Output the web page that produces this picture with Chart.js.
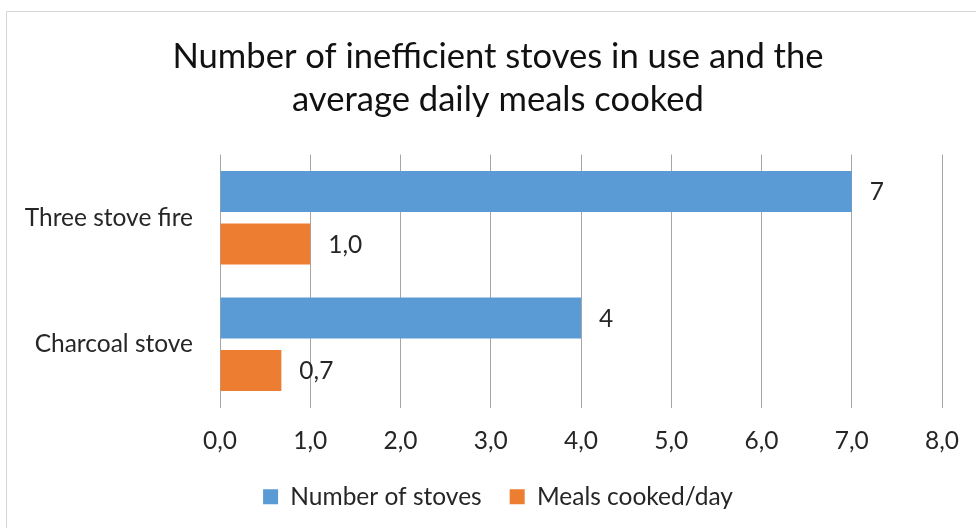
<!DOCTYPE html>
<html>
<head>
<meta charset="utf-8">
<script src="https://cdn.jsdelivr.net/npm/chart.js@4"></script>
<style>
  html, body { margin: 0; padding: 0; background: #fff; overflow: hidden; }
  #frame { position: absolute; left: 6px; top: 11px; width: 2000px; height: 2000px; border: 1px solid #d6d6d6; }
  #chart { position: absolute; left: 0; top: 0; }
</style>
</head>
<body>
<div id="frame"></div>
<canvas id="chart" width="976" height="528"></canvas>
<script>
var categories = ["Three stove fire", "Charcoal stove"];
var stoves = [7, 4];
var meals = [1.0, 0.68];
var seriesNames = ["Number of stoves", "Meals cooked/day"];
var xTicks = [0, 1, 2, 3, 4, 5, 6, 7, 8];

var textFont = "Lato, 'Open Sans', sans-serif";

function comma(v, d) {
	return v.toFixed(d).replace(".", ",");
}

// value labels to the right of each bar
var barLabels = {
	id: "barLabels",
	afterDatasetsDraw: function (chart) {
		var ctx = chart.ctx;
		ctx.save();
		ctx.font = "24.5px " + textFont;
		ctx.fillStyle = "#262626";
		ctx.textAlign = "left";
		ctx.textBaseline = "middle";
		chart.data.datasets.forEach(function (ds, i) {
			var meta = chart.getDatasetMeta(i);
			meta.data.forEach(function (bar, j) {
				var txt = i == 0 ? String(ds.data[j]) : comma(ds.data[j], 1);
				ctx.fillText(txt, bar.x + 18, bar.y + 1);
			});
		});
		ctx.restore();
	},
};

var config = {
	type: "bar",
	data: {
		labels: categories,
		datasets: [
			{ label: seriesNames[0], data: stoves, backgroundColor: "#5b9bd5" },
			{ label: seriesNames[1], data: meals, backgroundColor: "#ed7d31" },
		],
	},
	options: {
		indexAxis: "y",
		responsive: false,
		animation: false,
		categoryPercentage: 0.83,
		barPercentage: 0.78,
		layout: { padding: { left: 20, right: 0, top: 0, bottom: 9 } },
		scales: {
			x: {
				min: xTicks[0],
				max: xTicks[xTicks.length - 1],
				afterBuildTicks: function (scale) {
					scale.ticks = xTicks.map(function (v) { return { value: v }; });
				},
				afterFit: function (scale) {
					scale.paddingLeft = 0;
					scale.paddingRight = 34;
					scale.height = 49;
				},
				grid: { color: "#a6a6a6", lineWidth: 1, drawTicks: false },
				border: { display: false },
				ticks: {
					padding: 19,
					color: "#262626",
					font: { family: textFont, size: 24.5 },
					callback: function (v) { return comma(v, 1); },
				},
			},
			y: {
				afterFit: function (scale) {
					scale.width = 200;
				},
				grid: { display: false, drawTicks: false },
				border: { display: false },
				ticks: {
					padding: 27,
					color: "#262626",
					font: { family: textFont, size: 24.5 },
				},
			},
		},
		plugins: {
			title: {
				display: true,
				text: ["Number of inefficient stoves in use and the", "average daily meals cooked"],
				color: "#111",
				font: { family: textFont, size: 34.6, weight: "normal", lineHeight: 1.25 },
				padding: { top: 35, bottom: 33 },
			},
			legend: {
				position: "bottom",
				labels: {
					boxWidth: 15,
					boxHeight: 15,
					padding: 28,
					color: "#262626",
					font: { family: textFont, size: 24.5 },
				},
			},
			tooltip: { enabled: false },
		},
	},
	plugins: [barLabels],
};

var canvas = document.getElementById("chart");
var chart = new Chart(canvas.getContext("2d"), config);
</script>
</body>
</html>
